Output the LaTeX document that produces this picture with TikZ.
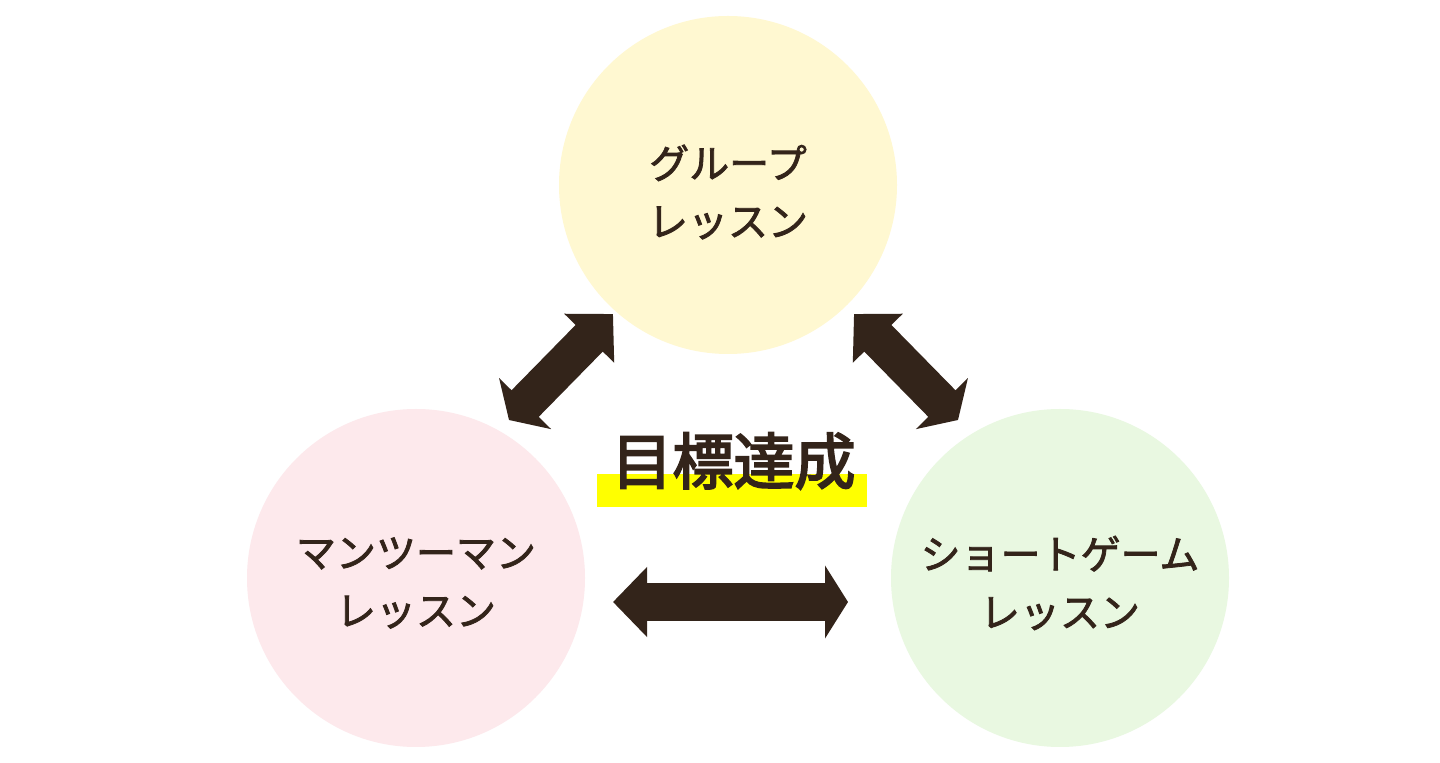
\documentclass[tikz,border=0pt]{standalone}
\usepackage{fontspec}
\newfontfamily\jp[FakeBold=2]{Noto Sans CJK JP}
\newfontfamily\jpgoal[FakeBold=3.2]{Noto Sans CJK JP}
\usetikzlibrary{arrows.meta}
\definecolor{ink}{HTML}{33241A}
\definecolor{groupfill}{HTML}{FFF8D1}
\definecolor{mtmfill}{HTML}{FDE9EC}
\definecolor{shortfill}{HTML}{E9F8E1}
\definecolor{marker}{HTML}{FFFF00}

\begin{document}
\begin{tikzpicture}[
    x=0.5pt, y=-0.5pt,
    % Node styles
    lesson/.style={circle, minimum size=169pt, inner sep=0pt},
    label text/.style={inner sep=0pt, text=ink, align=center,
        font=\jp\fontsize{20pt}{29pt}\selectfont},
    goal/.style={inner sep=0pt, text=ink, font=\jpgoal\fontsize{30.5pt}{36pt}\selectfont},
    highlight/.style={fill=marker, minimum width=135pt, minimum height=16.5pt, inner sep=0pt},
    fat/.style={draw=ink, line width=19pt},
    longtip/.tip={Triangle[length=17pt, width=34pt]},
    shorttip/.tip={Triangle[length=11.5pt, width=36pt]},
]

    % Canvas
    \fill[white] (0,0) rectangle (1440,763);
    \useasboundingbox (0,0) rectangle (1440,763);

    % Lessons
    \node[lesson, fill=groupfill] (group) at (728,185) {};
    \node[lesson, fill=mtmfill] (mtm) at (416,578) {};
    \node[lesson, fill=shortfill] (short) at (1060,578) {};
    \node[label text] (group-text) at ([yshift=-3.5pt]group.center) {グループ\\レッスン};
    \node[label text] (mtm-text) at ([yshift=-2.5pt]mtm.center) {マンツーマン\\レッスン};
    \node[label text] (short-text) at ([yshift=-2.5pt]short.center) {ショートゲーム\\レッスン};

    % Goal
    \node[highlight] (bar) at (732,490.5) {};
    \node[goal] (goal) at (733.5,461) {目標達成};

    % Arrow ends
    \coordinate (group-sw) at (613,314);
    \coordinate (group-se) at (854,314);
    \coordinate (mtm-ne) at (509,420);
    \coordinate (mtm-e) at (613,602);
    \coordinate (short-nw) at (958,420);
    \coordinate (short-w) at (848,602);

    % Connections
    \draw[fat, shorttip-longtip] (mtm-ne) -- (group-sw);
    \draw[fat, longtip-shorttip] (group-se) -- (short-nw);
    \draw[fat, longtip-shorttip] (mtm-e) -- (short-w);

\end{tikzpicture}
\end{document}
